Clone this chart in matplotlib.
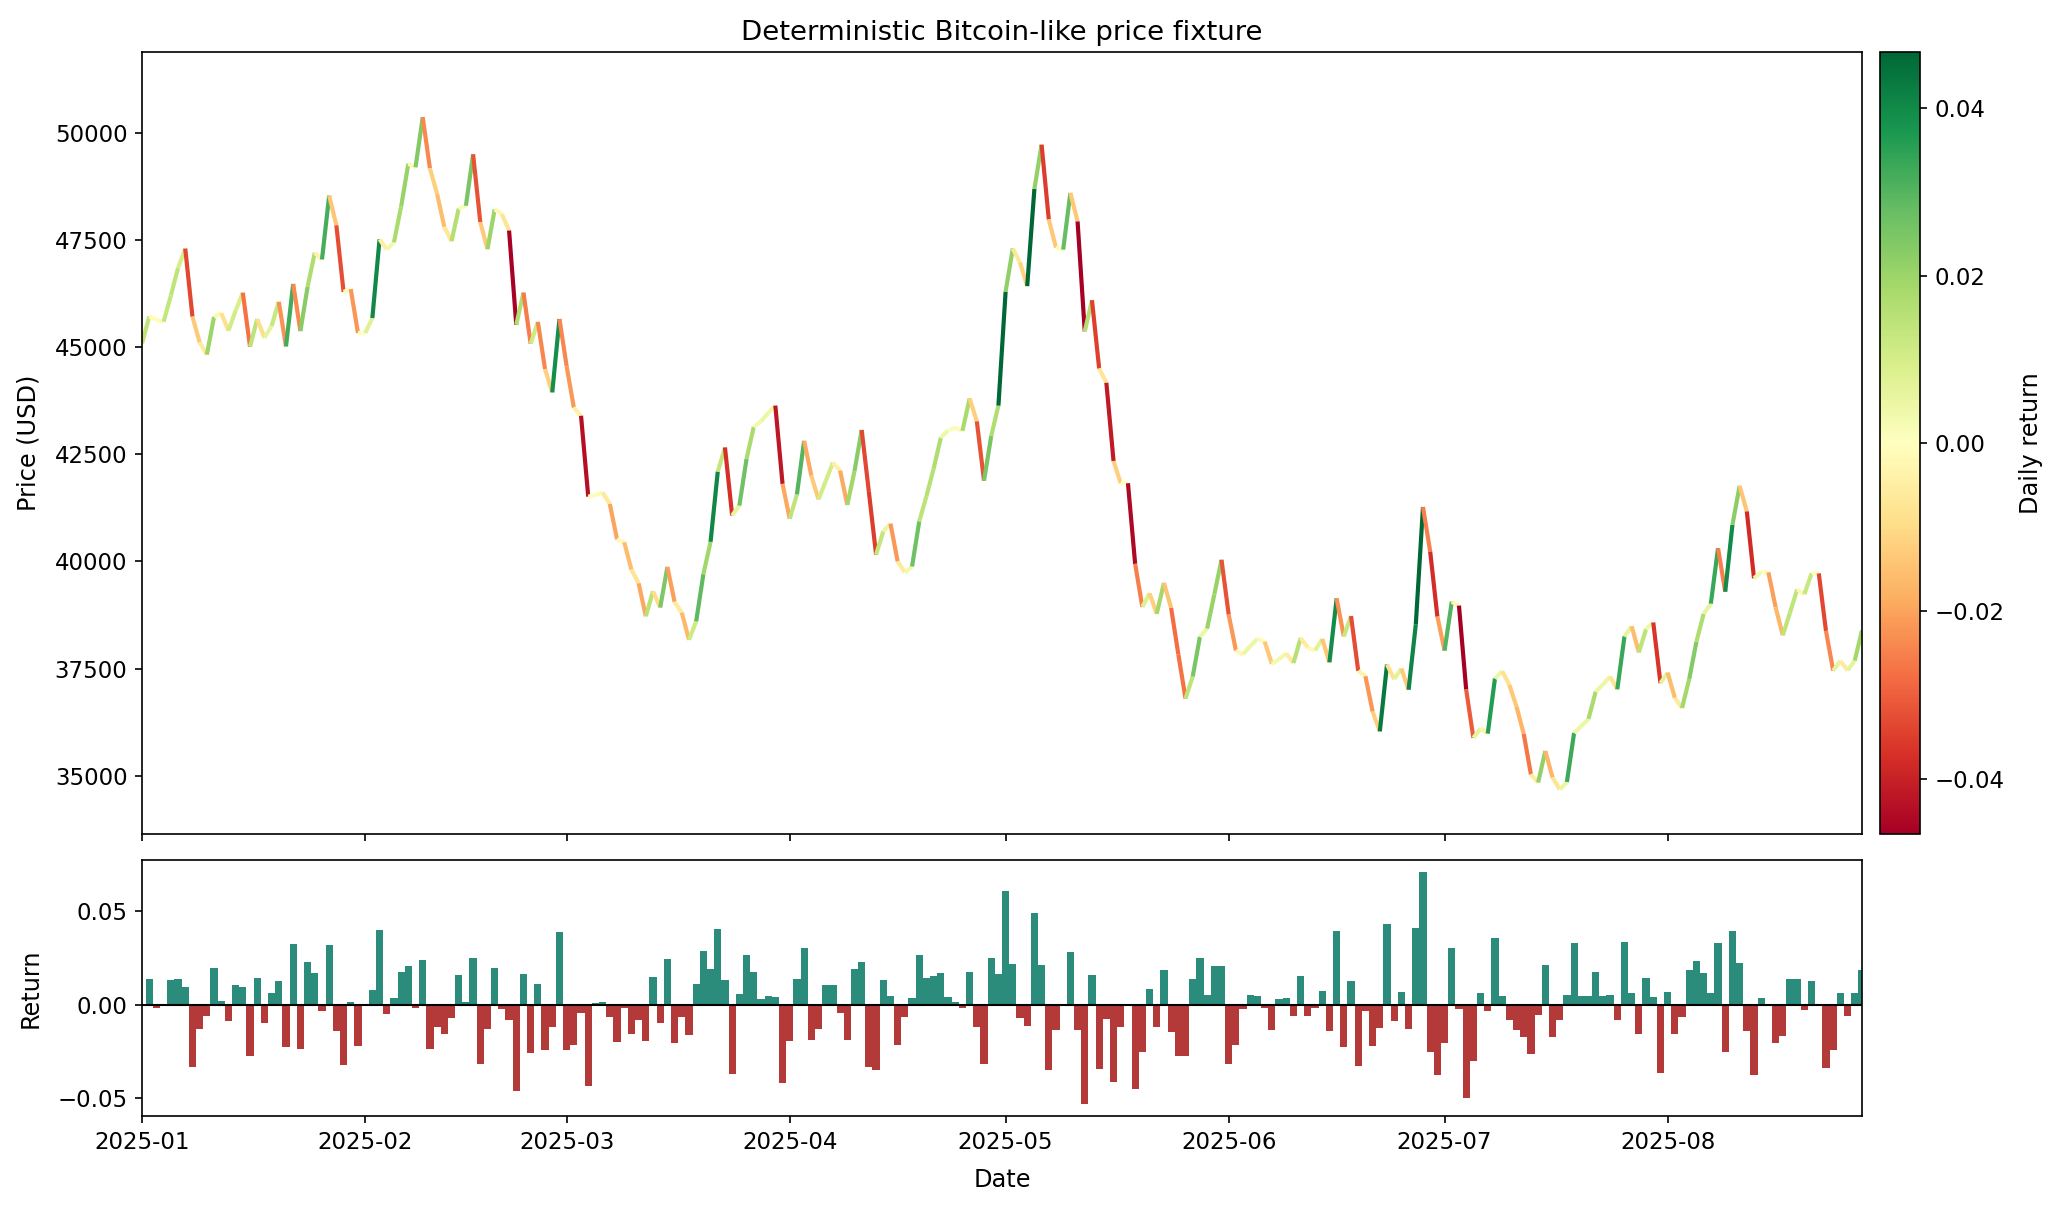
import numpy as np
import pandas as pd
import matplotlib
matplotlib.use("Agg")
import matplotlib.pyplot as plt
import matplotlib.dates as mdates
from matplotlib.collections import LineCollection
from matplotlib.colors import Normalize
from matplotlib.ticker import MultipleLocator

plt.rcParams["font.size"] = 11
plt.rcParams["axes.labelsize"] = 11.5
plt.rcParams["axes.labelpad"] = 7

# daily series
start_date = "2025-01-01"
n_days = 240
start_price = 45095.0

# daily returns (day 0 has none)
returns = [
    np.nan,
    0.0139, -0.0017, -0.0010, 0.0134, 0.0139, 0.0097, -0.0336, -0.0132, -0.0063, 0.0197,
    0.0019, -0.0090, 0.0103, 0.0092, -0.0273, 0.0144, -0.0096, 0.0061, 0.0124, -0.0226,
    0.0324, -0.0237, 0.0228, 0.0171, -0.0033, 0.0317, -0.0143, -0.0325, 0.0014, -0.0221,
    0.0000, 0.0077, 0.0402, -0.0049, 0.0035, 0.0176, 0.0207, -0.0017, 0.0238, -0.0237,
    -0.0122, -0.0158, -0.0070, 0.0160, 0.0014, 0.0249, -0.0320, -0.0132, 0.0197, -0.0023,
    -0.0080, -0.0461, 0.0165, -0.0258, 0.0113, -0.0242, -0.0122, 0.0390, -0.0242, -0.0216,
    -0.0044, -0.0435, 0.0009, 0.0014, -0.0064, -0.0200, -0.0017, -0.0158, -0.0080, -0.0195,
    0.0150, -0.0096, 0.0244, -0.0205, -0.0064, -0.0164, 0.0113, 0.0285, 0.0191, 0.0405,
    0.0134, -0.0372, 0.0056, 0.0264, 0.0176, 0.0030, 0.0045, 0.0040, -0.0419, -0.0195,
    0.0139, 0.0301, -0.0190, -0.0132, 0.0103, 0.0103, -0.0044, -0.0190, 0.0191, 0.0228,
    -0.0336, -0.0351, 0.0134, 0.0045, -0.0216, -0.0064, 0.0035, 0.0264, 0.0144, 0.0155,
    0.0171, 0.0040, 0.0014, -0.0017, 0.0176, -0.0122, -0.0320, 0.0249, 0.0165, 0.0610,
    0.0218, -0.0070, -0.0117, 0.0489, 0.0212, -0.0351, -0.0137, -0.0010, 0.0280, -0.0137,
    -0.0535, 0.0160, -0.0346, -0.0075, -0.0414, -0.0122, 0.0000, -0.0450, -0.0252, 0.0082,
    -0.0122, 0.0186, -0.0148, -0.0278, -0.0273, 0.0139, 0.0249, 0.0050, 0.0207, 0.0207,
    -0.0320, -0.0216, -0.0023, 0.0050, 0.0045, -0.0017, -0.0137, 0.0030, 0.0035, -0.0059,
    0.0155, -0.0059, -0.0017, 0.0071, -0.0143, 0.0396, -0.0226, 0.0124, -0.0331, -0.0033,
    -0.0221, -0.0127, 0.0433, -0.0090, 0.0066, -0.0132, 0.0411, 0.0713, -0.0252, -0.0378,
    -0.0205, 0.0301, -0.0023, -0.0503, -0.0305, 0.0061, -0.0033, 0.0358, 0.0045, -0.0085,
    -0.0137, -0.0174, -0.0263, -0.0054, 0.0212, -0.0174, -0.0080, 0.0050, 0.0329, 0.0045,
    0.0045, 0.0176, 0.0045, 0.0050, -0.0080, 0.0334, 0.0061, -0.0158, 0.0144, 0.0040,
    -0.0367, 0.0066, -0.0158, -0.0064, 0.0186, 0.0233, 0.0171, 0.0061, 0.0332, -0.0252,
    0.0397, 0.0223, -0.0143, -0.0379, 0.0035, 0.0000, -0.0205, -0.0169, 0.0139, 0.0139,
    -0.0028, 0.0124, 0.0000, -0.0338, -0.0242, 0.0061, -0.0059, 0.0061, 0.0186,
]

dates = pd.date_range(start_date, periods=n_days, freq="D")
rets = np.array(returns)
# price path follows the daily returns
price = start_price * np.cumprod(np.r_[1.0, 1.0 + rets[1:]])

fig = plt.figure(figsize=(2059 / 150, 1209 / 150), dpi=150)
ax1 = fig.add_axes([0.0690, 0.3102, 0.8353, 0.6464])
ax2 = fig.add_axes([0.0690, 0.0769, 0.8353, 0.2118], sharex=ax1)
cax = fig.add_axes([0.9131, 0.3102, 0.0194, 0.6464])

# price line, each segment coloured by that day's return
x = mdates.date2num(dates)
pts = np.column_stack([x, price])
segs = np.stack([pts[:-1], pts[1:]], axis=1)
norm = Normalize(-0.0466, 0.0466)
lc = LineCollection(segs, cmap="RdYlGn", norm=norm, linewidth=2)
lc.set_array(rets[1:])
ax1.add_collection(lc)
ax1.xaxis_date()
ax1.set_xlim(x[0], x[-1])
ax1.set_ylim(np.nanmin(price) * 0.97, np.nanmax(price) * 1.03)
ax1.set_ylabel("Price (USD)")
ax1.set_title("Deterministic Bitcoin-like price fixture")
plt.setp(ax1.get_xticklabels(), visible=False)

cb = fig.colorbar(lc, cax=cax)
cb.set_label("Daily return")

# daily return bars
bar_colors = ["#2b8c7c" if r >= 0 else "#b43a3a" for r in rets[1:]]
ax2.bar(dates[1:], rets[1:], width=1.0, color=bar_colors)
ax2.axhline(0, color="black", linewidth=1)
ax2.yaxis.set_major_locator(MultipleLocator(0.05))
ax2.set_ylabel("Return")
ax2.set_xlabel("Date")
ax2.xaxis.set_major_locator(mdates.MonthLocator())
ax2.xaxis.set_major_formatter(mdates.DateFormatter("%Y-%m"))
ax2.set_xlim(x[0], x[-1])

fig.savefig("out.png", dpi=150)
